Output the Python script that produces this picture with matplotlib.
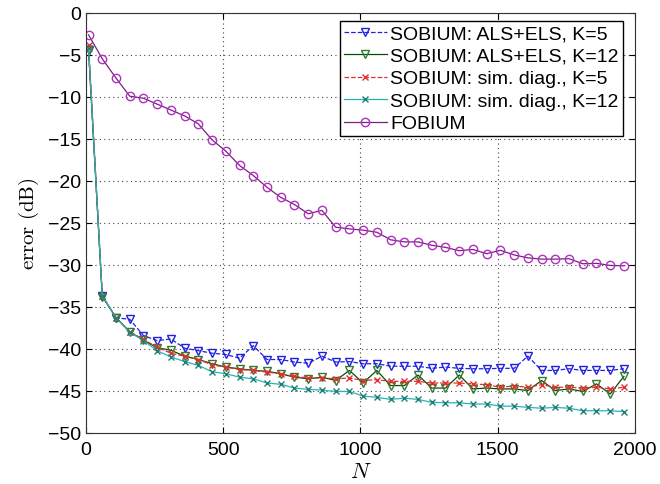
import matplotlib
matplotlib.use("Agg")
import matplotlib.pyplot as plt

plt.rcParams['font.family'] = ['Liberation Sans', 'DejaVu Sans']
plt.rcParams['mathtext.fontset'] = 'cm'

# N axis: 10, 60, ..., 1960
N = list(range(10, 2000, 50))

als_k5 = [-4.4, -33.7, -36.35, -36.5, -38.45, -39.05, -38.85, -39.95, -40.25, -40.55,
          -40.7, -41.15, -39.65, -41.3, -41.3, -41.6, -41.75, -40.9, -41.6, -41.55,
          -41.8, -41.8, -42.1, -42.1, -42.1, -42.35, -42.2, -42.35, -42.4, -42.4,
          -42.35, -42.35, -40.9, -42.6, -42.6, -42.4, -42.6, -42.6, -42.6, -42.4]

als_k12 = [-4.4, -33.8, -36.3, -38.0, -39.0, -39.9, -40.2, -40.9, -41.3, -41.8,
           -42.2, -42.4, -42.6, -42.7, -43.0, -43.4, -43.6, -43.4, -43.8, -42.6,
           -44.1, -42.6, -44.4, -44.4, -43.15, -44.7, -44.7, -43.15, -44.8, -44.7,
           -44.8, -44.8, -45.0, -43.8, -45.0, -44.8, -45.1, -44.2, -45.4, -43.3]

sim_k5 = [-3.8, -33.7, -36.3, -38.0, -38.9, -39.85, -40.55, -40.9, -41.3, -41.95,
          -42.2, -42.5, -42.6, -42.8, -43.0, -43.3, -43.5, -43.5, -43.6, -43.5,
          -43.8, -43.7, -43.9, -43.9, -43.9, -44.1, -44.1, -44.1, -44.2, -44.3,
          -44.6, -44.45, -44.6, -44.3, -44.6, -44.6, -44.7, -44.6, -44.8, -44.6]

sim_k12 = [-4.2, -33.7, -36.35, -38.05, -39.05, -40.25, -41.0, -41.55, -42.0, -42.75,
           -43.0, -43.4, -43.6, -44.1, -44.25, -44.7, -44.85, -44.95, -45.1, -45.1,
           -45.65, -45.8, -46.05, -45.9, -46.05, -46.4, -46.45, -46.45, -46.6, -46.6,
           -46.85, -46.85, -47.0, -47.1, -47.0, -47.1, -47.4, -47.4, -47.4, -47.5]

fobium = [-2.65, -5.5, -7.8, -9.95, -10.2, -10.9, -11.6, -12.3, -13.25, -15.15,
          -16.5, -18.2, -19.4, -20.8, -22.0, -22.85, -23.95, -23.55, -25.55, -25.75,
          -25.9, -26.15, -27.05, -27.3, -27.3, -27.7, -27.95, -28.35, -28.2, -28.7,
          -28.3, -28.85, -29.2, -29.35, -29.35, -29.3, -29.9, -29.85, -30.1, -30.15]

fig = plt.figure(figsize=(6.6, 4.85), dpi=100)
ax = fig.add_axes([0.130, 0.106, 0.832, 0.866])

ax.plot(N, als_k5, '--v', color='#2020e0', mfc='none', ms=6, lw=0.9,
        label='SOBIUM: ALS+ELS, K=5')
ax.plot(N, als_k12, '-v', color='#0a4a0a', mec='#2e7d2e', mfc='none', ms=6, lw=0.9,
        label='SOBIUM: ALS+ELS, K=12')
ax.plot(N, sim_k5, '--x', color='#e03030', ms=4, lw=0.9,
        label='SOBIUM: sim. diag., K=5')
ax.plot(N, sim_k12, '-x', color='#2ab5b0', mec='#1f7f7a', ms=4, lw=0.9,
        label='SOBIUM: sim. diag., K=12')
ax.plot(N, fobium, '-o', color='#7a2080', mec='#b030c0', mfc='none', ms=6, lw=0.9,
        label='FOBIUM')

ax.set_xlim(0, 2000)
ax.set_ylim(-50, 0)
ax.set_xticks([0, 500, 1000, 1500, 2000])
ax.set_yticks(range(-50, 1, 5))
ax.grid(True, linestyle=(0, (1, 3)), color='#444444', linewidth=0.8)
ax.tick_params(direction='in', top=True, right=True, labelsize=14, length=4)
ax.tick_params(axis='x', pad=6)
for s in ax.spines.values():
    s.set_color('#333333')

ax.set_xlabel('$N$', fontsize=16, labelpad=2)
ax.set_ylabel(r'$\mathrm{error\ (dB)}$', fontsize=15, labelpad=5)

leg = ax.legend(loc='upper right', bbox_to_anchor=(0.978, 0.98), borderaxespad=0,
                fontsize=14, handlelength=2.2, handletextpad=0.2, labelspacing=0.25,
                fancybox=False, framealpha=1, edgecolor='black', borderpad=0.2)
leg.get_frame().set_linewidth(1.0)

fig.savefig('out.png', dpi=100)
